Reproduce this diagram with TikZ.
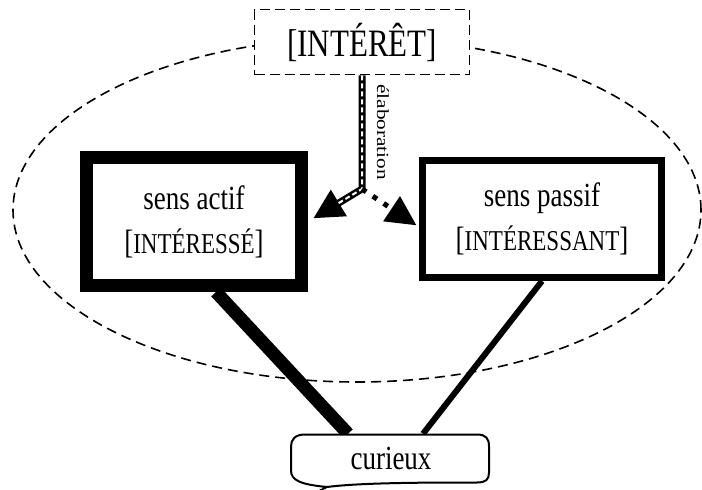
\documentclass[tikz,border=0pt]{standalone}
\usepackage{fontspec}
\setmainfont{Liberation Serif}
\usepackage{graphicx}
\usetikzlibrary{arrows.meta}

\newcommand{\tall}[1]{\scalebox{1}[1.25]{#1}}
\newcommand{\sensterm}[1]{\tall{\fontsize{27}{32}\selectfont[}\tall{\fontsize{23}{28}\selectfont #1}\tall{\fontsize{27}{32}\selectfont]}}

\begin{document}
\begin{tikzpicture}[
  x=1pt, y=-1pt,
  every node/.style={font=\fontsize{27}{32}\selectfont},
  box/.style={draw, fill=white, align=center, inner sep=0pt},
  dashbox/.style={box, line width=1.7pt, dash pattern=on 10pt off 5pt},
  ringline/.style={line width=1.6pt, dash pattern=on 10pt off 6pt},
  tip/.style={-{Triangle[length=30pt, width=29pt]}},
  dblarrow/.style={tip, line width=7pt,
    postaction={draw=white, -, line width=2pt, dash pattern=on 5pt off 3pt, shorten >=34pt}},
  dotarrow/.style={tip, line width=5pt, dash pattern=on 5pt off 8pt},
  elabel/.style={rotate=-90, anchor=south, inner sep=0pt, outer sep=15pt,
    font=\fontsize{17}{20}\selectfont},
  linkA/.style={line width=13pt},
  linkB/.style={line width=6pt}
]
\useasboundingbox (0,0) rectangle (702,490);

% champ de l'interet
\draw[ringline] (357,210) ellipse [x radius=344pt, y radius=172pt];

\node[dashbox, minimum width=215pt, minimum height=65pt] (interet) at (362,42)
  {\tall{\fontsize{31}{37}\selectfont [INTÉRÊT]}};
\node[box, line width=13pt, minimum width=215pt, minimum height=128pt] (actif) at (194,221.5)
  {\tall{sens actif}\\[12pt]\sensterm{INTÉRESSÉ}};
\node[box, line width=7pt, minimum width=239pt, minimum height=117pt] (passif) at (542,219)
  {\tall{sens passif}\\[12pt]\sensterm{INTÉRESSANT}};
\node[minimum width=198pt, minimum height=49pt, inner sep=0pt] (curieux) at (391,458.5) {};
\coordinate (elab) at (362,189);

% liens vers curieux
\draw[linkA] ([xshift=22pt]actif.south) -- ([xshift=-43pt]curieux.north);
\draw[linkB] (passif.south) -- ([xshift=32pt]curieux.north);

\begin{scope}[shift={(curieux.center)}]
\draw[line width=2pt, fill=white] (-75,34) -- (-64,28.5)
  .. controls (-90,26) and (-100,22) .. (-100,12) -- (-100,-12)
  .. controls (-100,-19) and (-96,-24) .. (-86,-24) -- (86,-24)
  .. controls (95,-24) and (98,-20) .. (98,-12) -- (98,14)
  .. controls (98,21) and (95,24) .. (86,24)
  .. controls (40,24) and (-30,24) .. (-64,28.5);
\end{scope}
\node at (curieux.center) {\tall{curieux}};

% elaboration
\draw[dblarrow, shorten >=6pt] (interet.south) -- node[elabel]{\scalebox{1.25}[1]{élaboration}} (elab) -- (actif.east);
\draw[dotarrow, shorten >=3pt] (elab) -- ([yshift=-8pt]passif.west);
\end{tikzpicture}
\end{document}
